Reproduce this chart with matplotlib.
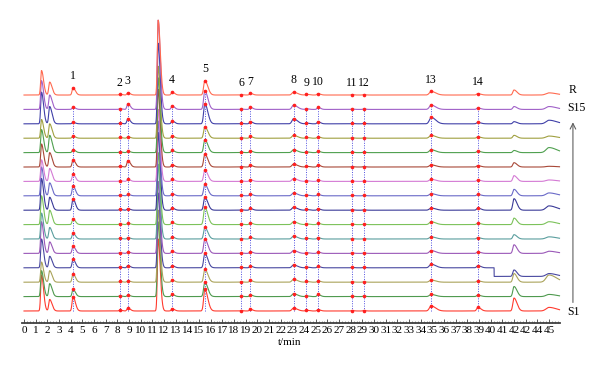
import numpy as np
import matplotlib
matplotlib.use("Agg")
import matplotlib.pyplot as plt
from matplotlib.ticker import FixedLocator

# samples from bottom (S1) to top (R)
samples = ["S1", "S2", "S3", "S4", "S5", "S6", "S7", "S8",
           "S9", "S10", "S11", "S12", "S13", "S14", "S15", "R"]
colors = ["#ff3b2f", "#4f9a4f", "#aaa35a", "#4848a0", "#9a58b8", "#5a9e9e",
          "#7cc25a", "#3a3a98", "#6a6ac8", "#d47ad4", "#a84838", "#4fa04f",
          "#a0a040", "#4040a8", "#a060c8", "#ff6a50"]

# numbered peaks (retention time, min)
peak_labels = ["1", "2", "3", "4", "5", "6", "7", "8", "9", "10", "11", "12", "13", "14"]
peak_times = [4.2, 8.2, 8.9, 12.7, 15.5, 18.6, 19.4, 23.1, 24.2, 25.2, 28.1, 29.1, 34.9, 38.9]
peak_widths = [0.08, 0.07, 0.08, 0.08, 0.1, 0.07, 0.08, 0.13, 0.08, 0.08, 0.07, 0.07, 0.15, 0.1]

# heights of numbered peaks, one row per sample (S1..R), in trace-spacing units
peak_heights = [
    [1.0, 0.05, 0.20, 0.15, 1.5, 0.03, 0.12, 0.20, 0.05, 0.10, 0.03, 0.03, 0.35, 0.25],
    [0.5, 0.05, 0.10, 0.15, 1.0, 0.03, 0.12, 0.20, 0.05, 0.15, 0.03, 0.03, 0.15, 0.10],
    [0.6, 0.05, 0.10, 0.15, 0.9, 0.03, 0.12, 0.20, 0.05, 0.10, 0.03, 0.03, 0.15, 0.10],
    [0.6, 0.05, 0.15, 0.15, 1.0, 0.03, 0.12, 0.20, 0.05, 0.10, 0.03, 0.03, 0.25, 0.15],
    [0.5, 0.05, 0.10, 0.15, 1.0, 0.03, 0.12, 0.20, 0.05, 0.10, 0.03, 0.03, 0.20, 0.10],
    [0.4, 0.05, 0.10, 0.15, 0.8, 0.03, 0.12, 0.20, 0.05, 0.10, 0.03, 0.03, 0.15, 0.10],
    [0.4, 0.05, 0.10, 0.15, 1.2, 0.03, 0.12, 0.20, 0.05, 0.10, 0.03, 0.03, 0.20, 0.10],
    [0.8, 0.05, 0.10, 0.15, 0.9, 0.03, 0.12, 0.20, 0.05, 0.10, 0.03, 0.03, 0.15, 0.15],
    [0.7, 0.05, 0.10, 0.15, 0.8, 0.03, 0.12, 0.20, 0.05, 0.10, 0.03, 0.03, 0.15, 0.10],
    [0.5, 0.05, 0.15, 0.15, 0.8, 0.03, 0.12, 0.20, 0.05, 0.10, 0.03, 0.03, 0.15, 0.10],
    [0.5, 0.05, 0.45, 0.15, 0.9, 0.03, 0.12, 0.20, 0.05, 0.15, 0.03, 0.03, 0.15, 0.10],
    [0.2, 0.05, 0.10, 0.15, 0.9, 0.03, 0.12, 0.20, 0.05, 0.10, 0.03, 0.03, 0.20, 0.10],
    [0.15, 0.05, 0.10, 0.15, 0.8, 0.03, 0.12, 0.20, 0.05, 0.10, 0.03, 0.03, 0.20, 0.10],
    [0.1, 0.05, 0.35, 0.20, 1.4, 0.03, 0.15, 0.35, 0.05, 0.15, 0.03, 0.03, 0.45, 0.10],
    [0.15, 0.05, 0.40, 0.25, 1.3, 0.03, 0.15, 0.30, 0.05, 0.15, 0.03, 0.03, 0.30, 0.10],
    [0.5, 0.05, 0.15, 0.20, 1.0, 0.03, 0.12, 0.20, 0.05, 0.10, 0.03, 0.03, 0.25, 0.10],
]

# unnumbered peaks: retention times, widths and heights per sample
extra_times = [1.5, 2.2, 11.5, 42.0, 45.0]
extra_widths = [0.07, 0.08, 0.07, 0.1, 0.25]
extra_heights = [
    [2.5, 0.8, 5.0, 0.9, 0.25],
    [1.8, 0.9, 5.2, 0.7, 0.15],
    [1.4, 0.8, 5.0, 0.6, 0.50],
    [2.0, 0.8, 5.2, 0.45, 0.20],
    [2.2, 0.8, 5.0, 0.6, 0.15],
    [1.8, 0.8, 5.2, 0.3, 0.15],
    [2.0, 1.0, 5.0, 0.45, 0.20],
    [2.2, 0.9, 5.4, 0.8, 0.30],
    [2.0, 0.9, 5.2, 0.45, 0.20],
    [1.5, 0.9, 5.0, 0.4, 0.10],
    [1.6, 1.0, 5.4, 0.3, 0.05],
    [1.6, 1.2, 5.2, 0.15, 0.35],
    [1.3, 1.0, 5.0, 0.2, 0.15],
    [2.2, 1.2, 5.6, 0.15, 0.25],
    [2.0, 1.0, 6.2, 0.2, 0.20],
    [1.7, 0.9, 5.2, 0.35, 0.15],
]

# baseline step seen in S4 near 40.3 min
step_sample = "S4"
step_time = 40.3
step_size = -0.6

x_ticks = list(range(46))
x_tick_labels = [str(i) for i in range(42)] + ["42", "42", "44", "45"]

t = np.linspace(0, 45.9, 4600)


def peak(t0, h, w):
    left = np.exp(-0.5 * ((t - t0) / w) ** 2)
    right = np.exp(-0.5 * ((t - t0) / (2.5 * w)) ** 2)
    return h * np.where(t < t0, left, right)


fig = plt.figure(figsize=(6, 3.68), dpi=100)
ax = fig.add_axes([0, 0, 1, 1])
ax.set_xlim(-2.057, 49.37)
ax.set_ylim(-3.96, 21.6)

serif = "Liberation Serif"

for i, name in enumerate(samples):
    y = np.zeros_like(t)
    for t0, w, h in zip(extra_times, extra_widths, extra_heights[i]):
        y += peak(t0, h, w)
    for t0, w, h in zip(peak_times, peak_widths, peak_heights[i]):
        y += peak(t0, h, w)
    if name == step_sample:
        y += np.where(t > step_time, step_size, 0)
    ax.plot(t, y + i, color=colors[i], lw=0.8, zorder=3)

    vals = np.interp(peak_times, t, y) + i
    ax.plot(peak_times, vals, "o", color="#ff2020", ms=2.6, mec="none", zorder=5)

# dotted guide lines from S15 down to S1
top_idx = samples.index("S15")
for j, t0 in enumerate(peak_times):
    ax.plot([t0, t0], [0, top_idx + peak_heights[top_idx][j]], ls=(0, (1, 1.5)),
            color="#5050e0", lw=0.7, zorder=2)

# peak numbers above R
r_idx = samples.index("R")
for j, t0 in enumerate(peak_times):
    ax.text(t0, r_idx + peak_heights[r_idx][j] + 0.4, peak_labels[j],
            ha="center", va="bottom", fontsize=8.5, family=serif)

# sample labels and arrow on the right
ax.text(46.7, r_idx + 0.35, "R", ha="left", va="center", fontsize=8.5, family=serif)
ax.text(46.6, top_idx + 0.1, "S15", ha="left", va="center", fontsize=8.5, family=serif)
ax.text(46.6, -0.1, "S1", ha="left", va="center", fontsize=8.5, family=serif)
ax.annotate("", xy=(47.05, top_idx - 0.7), xytext=(47.05, 0.4),
            arrowprops=dict(arrowstyle="->", color="#606060", lw=0.8))

# axis
for s in ["top", "left", "right"]:
    ax.spines[s].set_visible(False)
ax.spines["bottom"].set_position(("data", -0.83))
ax.spines["bottom"].set_bounds(-0.17, 45.94)
ax.spines["bottom"].set_linewidth(1.3)
ax.spines["bottom"].set_color("#404040")
ax.set_yticks([])
ax.set_xticks(x_ticks)
ax.set_xticklabels(x_tick_labels, family=serif, fontsize=8)
ax.xaxis.set_minor_locator(FixedLocator(np.arange(0, 45.9, 0.25)))
ax.tick_params(axis="x", which="major", direction="in", length=3, width=0.6,
               pad=2, colors="#404040", labelcolor="black")
ax.tick_params(axis="x", which="minor", direction="in", length=1.5, width=0.4,
               colors="#404040")
ax.text(22.8, -2.22, "t/min", ha="center", va="center", fontsize=8, family=serif)

fig.savefig("out.png", dpi=100)
